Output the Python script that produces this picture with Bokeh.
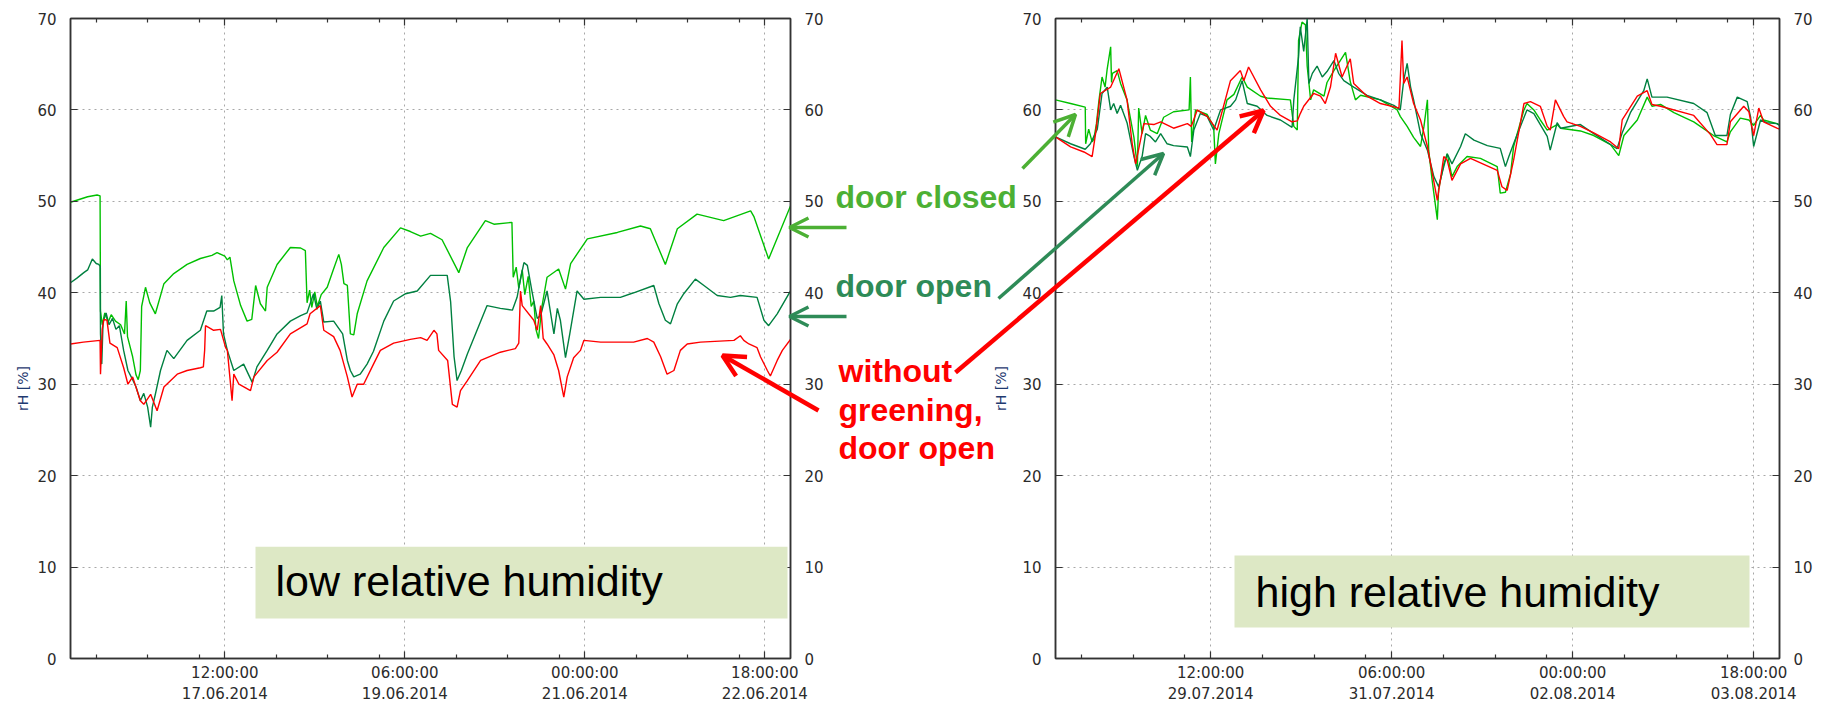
import math
from bokeh.plotting import figure
from bokeh.models import Range1d, LinearAxis, FixedTicker, Arrow, OpenHead, Label, BoxAnnotation
from bokeh.layouts import row, column
from bokeh.embed import file_html
from bokeh.resources import INLINE

# ---------------- data (hours since window start, rH in %) ----------------
# low relative humidity window starts 16.06.2014 00:00
LOW_DOOR_CLOSED = [
    (0, 49.9), (2, 50.2), (4, 50.5), (6.2, 50.7), (6.9, 50.6), (7.0, 38.0), (7.4, 36.5), (8.0, 37.8),
    (8.8, 36.8), (9.5, 37.6), (10.5, 36.9), (11.7, 36.5), (12.6, 35.5), (13.0, 39.1), (13.3, 35.2),
    (14.5, 33.0), (15.3, 31.0), (15.8, 30.5), (16.3, 31.5), (16.6, 38.5), (17.5, 40.6), (18.5, 38.9),
    (19.8, 37.7), (21.8, 41.0), (24.1, 42.1), (27.2, 43.1), (30.3, 43.75), (33.0, 44.1), (34.2, 44.4),
    (36.0, 44.0), (36.6, 43.6), (37.2, 43.9), (38.1, 41.3), (39.7, 38.6), (41.2, 36.9), (42.3, 37.1),
    (43.2, 40.8), (44.3, 38.8), (45.5, 38.0), (45.9, 40.6), (48.2, 43.1), (51.3, 44.95), (53.7, 44.9),
    (54.8, 44.6), (55.2, 38.9), (55.8, 40.3), (56.3, 38.4), (57.0, 40.1), (57.6, 38.5), (58.5, 39.8),
    (59.9, 40.6), (61.3, 42.5), (62.6, 44.2), (63.2, 43.1), (63.8, 41.0), (64.6, 40.8), (65.3, 35.5),
    (66.1, 35.4), (66.9, 37.7), (69.2, 41.3), (73.1, 44.95), (77.0, 47.1), (79.3, 46.7), (81.7, 46.2),
    (84.0, 46.5), (86.7, 45.8), (90.6, 42.2), (92.6, 44.95), (96.8, 47.9), (98.8, 47.5), (103.0, 47.7),
    (103.3, 41.7), (104.0, 42.8), (104.6, 40.5), (105.4, 42.5), (106.0, 39.8), (106.8, 41.8),
    (107.5, 38.5), (108.1, 39.1), (108.6, 36.0), (109.2, 35.0), (110.0, 38.5), (111.2, 41.7),
    (113.9, 42.6), (115.5, 40.4), (116.7, 43.2), (120.6, 45.9), (127.6, 46.6), (133.0, 47.3),
    (135.3, 47.0), (138.8, 43.1), (141.6, 47.0), (146.2, 48.6), (152.4, 47.9), (158.7, 48.95),
    (159.5, 48.3), (162.9, 43.7), (168, 49.5),
]
LOW_DOOR_OPEN = [
    (0, 41.1), (1.5, 41.6), (3.1, 42.2), (4.0, 42.5), (5.1, 43.7), (6.0, 43.2), (6.6, 43.1), (6.9, 42.9),
    (7.0, 35.5), (7.3, 32.2), (7.6, 36.8), (8.3, 37.8), (9.0, 36.5), (9.8, 37.2), (10.6, 36.0),
    (11.4, 36.4), (12.4, 33.7), (13.4, 31.5), (14.5, 30.5), (15.3, 29.7), (16.3, 28.2), (17.1, 29.0),
    (18.0, 27.5), (18.7, 25.3), (19.1, 27.5), (19.8, 28.9), (21.0, 31.5), (22.5, 33.7), (24.1, 32.8),
    (27.2, 34.8), (30.3, 35.9), (31.8, 38.0), (33.4, 38.0), (34.9, 38.4), (35.3, 39.7), (35.7, 35.5),
    (36.6, 33.7), (38.1, 31.5), (40.4, 32.2), (42.4, 30.2), (43.5, 31.9), (45.9, 33.7), (48.2, 35.5),
    (51.3, 36.9), (53.7, 37.5), (55.2, 37.8), (56.7, 39.9), (57.5, 38.2), (58.3, 39.1), (59.1, 36.8),
    (61.4, 36.9), (63.5, 35.5), (64.6, 32.6), (65.3, 31.5), (66.1, 30.8), (67.6, 31.1), (69.2, 32.2),
    (70.7, 33.6), (73.1, 36.9), (75.4, 39.1), (78.2, 39.9), (80.9, 40.2), (84.0, 41.9), (87.9, 41.9),
    (88.7, 39.0), (89.5, 33.0), (90.2, 30.4), (91.2, 31.5), (92.6, 33.3), (94.5, 35.5), (97.2, 38.6),
    (100.3, 38.3), (103.1, 38.1), (104.2, 39.5), (105.0, 41.5), (105.8, 43.3), (106.6, 43.0),
    (107.7, 40.1), (108.9, 37.2), (109.7, 37.5), (111.2, 40.2), (112.8, 35.5), (113.6, 38.3),
    (114.3, 37.0), (115.5, 32.9), (116.5, 35.5), (118.2, 40.2), (119.8, 39.3), (123.7, 39.5),
    (128.3, 39.5), (131.4, 40.0), (136.1, 40.8), (137.3, 38.8), (138.8, 37.0), (140.0, 36.6),
    (141.6, 38.8), (143.1, 39.9), (145.8, 41.5), (147.8, 40.8), (150.9, 39.7), (154.0, 39.5),
    (156.3, 39.7), (160.2, 39.5), (161.8, 37.0), (162.9, 36.4), (164.9, 37.7), (168, 40.2),
]
LOW_NO_GREENING = [
    (0, 34.4), (3, 34.6), (6.9, 34.8), (7.0, 31.1), (7.4, 36.0), (7.8, 37.1), (8.5, 37.0), (9.2, 34.5),
    (10.9, 34.0), (12.4, 31.8), (13.4, 30.0), (14.5, 30.8), (16.3, 28.2), (17.1, 27.8), (18.7, 28.9),
    (20.2, 27.1), (21.8, 29.7), (24.9, 31.1), (27.2, 31.5), (30.3, 31.8), (31.0, 31.9), (31.3, 33.7),
    (31.5, 36.4), (33.4, 35.9), (35.0, 36.0), (36.2, 34.0), (36.6, 33.7), (37.7, 28.2), (38.1, 31.1),
    (39.3, 30.0), (42.0, 29.3), (42.8, 30.8), (45.9, 32.6), (48.2, 33.5), (51.3, 35.5), (55.2, 36.6),
    (55.9, 37.7), (58.3, 38.6), (59.1, 35.9), (61.4, 35.2), (62.9, 33.7), (64.6, 30.8), (65.7, 28.6),
    (66.9, 30.0), (68.4, 30.0), (70.7, 32.2), (72.3, 33.7), (75.4, 34.5), (79.3, 34.9), (81.7, 35.1),
    (83.2, 34.8), (84.8, 35.9), (85.5, 35.5), (85.9, 33.7), (88.0, 32.6), (89.1, 27.8), (90.2, 27.5),
    (91.0, 29.3), (92.6, 30.4), (95.7, 32.6), (100.3, 33.5), (103.8, 33.9), (104.6, 34.5), (105.0, 40.2),
    (105.4, 38.6), (108.1, 37.0), (108.9, 35.9), (109.7, 38.6), (110.3, 35.0), (111.2, 34.4),
    (112.8, 33.2), (113.9, 31.5), (115.1, 28.6), (115.9, 30.8), (117.4, 32.9), (119.0, 33.7),
    (119.8, 34.8), (123.7, 34.6), (131.4, 34.6), (134.6, 35.0), (136.1, 34.6), (137.7, 33.0),
    (139.2, 31.1), (140.8, 31.5), (142.3, 33.7), (143.9, 34.4), (147.0, 34.6), (154.8, 34.8),
    (156.3, 35.3), (157.1, 34.8), (158.3, 34.4), (160.2, 34.0), (161.0, 33.0), (162.6, 31.5),
    (163.3, 30.9), (164.9, 32.6), (166.1, 33.7), (168, 34.9),
]
# high relative humidity window starts 28.07.2014 00:00
HIGH_DOOR_CLOSED = [
    (0, 61.1), (3.5, 60.7), (6.9, 60.3), (7.0, 56.3), (7.7, 57.9), (8.5, 56.5), (8.9, 56.8), (9.5, 58.5),
    (10.1, 61.1), (10.8, 63.6), (11.5, 62.5), (12.0, 64.5), (12.8, 66.9), (13.0, 63.0), (13.2, 64.0),
    (14.3, 64.3), (15.1, 62.9), (16.6, 61.1), (18.2, 57.0), (19.0, 53.8), (19.3, 60.2), (20.1, 57.4),
    (20.9, 59.4), (22.0, 57.8), (23.6, 57.4), (25.1, 59.2), (27.4, 59.8), (31.0, 60.0), (31.3, 63.6),
    (31.6, 56.5), (32.5, 60.0), (35.2, 59.5), (36.7, 58.2), (37.1, 54.1), (37.9, 57.4), (39.8, 61.1),
    (41.4, 61.7), (43.3, 63.6), (44.5, 62.5), (47.6, 61.5), (49.1, 61.3), (54.5, 61.1), (55.3, 58.2),
    (56.1, 57.8), (56.4, 67.6), (57.2, 69.6), (58.0, 69.3), (58.4, 64.8), (59.2, 61.1), (59.9, 62.2),
    (62.3, 61.5), (63.0, 63.0), (64.6, 64.3), (67.3, 66.3), (68.4, 63.1), (69.6, 61.1), (70.8, 61.6),
    (75.4, 61.1), (79.3, 60.0), (80.0, 59.3), (81.6, 58.2), (83.1, 57.0), (84.7, 56.0), (85.5, 58.2),
    (86.3, 61.1), (86.6, 55.6), (87.4, 52.3), (88.6, 48.0), (88.9, 51.3), (90.1, 54.1), (90.9, 55.2),
    (92.0, 52.7), (93.2, 53.8), (95.5, 54.9), (98.6, 54.7), (102.5, 53.8), (103.2, 50.9), (104.4, 51.0),
    (105.6, 53.0), (106.3, 56.0), (108.7, 60.0), (109.4, 60.7), (111.0, 60.0), (112.5, 58.9),
    (114.1, 57.8), (116.4, 58.4), (117.2, 58.0), (121.8, 57.7), (124.9, 57.2), (128.8, 56.2),
    (130.7, 55.0), (131.9, 57.2), (135.0, 58.9), (137.3, 61.4), (138.4, 60.4), (140.4, 60.6),
    (143.5, 59.7), (148.1, 58.7), (152.7, 57.2), (155.8, 56.5), (156.6, 57.6), (158.9, 59.1),
    (160.9, 58.9), (162.0, 58.3), (163.6, 59.4), (164.3, 58.9), (167.4, 58.5), (168, 58.4),
]
HIGH_DOOR_OPEN = [
    (0, 57.05), (3.5, 56.3), (6.9, 55.7), (8.1, 56.3), (9.7, 57.9), (10.8, 61.8), (12.0, 62.5),
    (12.8, 60.0), (13.5, 60.7), (14.3, 59.6), (15.1, 60.5), (16.6, 58.6), (18.2, 54.9), (19.0, 53.4),
    (20.1, 54.9), (20.9, 57.4), (22.0, 57.1), (23.2, 56.5), (24.4, 57.4), (25.9, 56.3), (27.4, 56.1),
    (30.6, 55.95), (31.3, 54.9), (32.1, 57.8), (33.6, 59.6), (35.2, 59.3), (36.7, 57.8), (38.3, 60.0),
    (40.6, 60.4), (41.8, 61.1), (43.3, 63.2), (44.5, 60.7), (46.8, 60.4), (49.1, 59.4), (52.2, 58.9),
    (54.9, 58.1), (55.3, 61.1), (56.4, 65.8), (56.8, 69.1), (57.6, 66.4), (58.4, 70.0), (58.8, 62.9),
    (59.6, 64.0), (60.7, 64.8), (61.9, 63.6), (63.0, 64.2), (64.6, 65.4), (65.7, 64.0), (66.9, 63.2),
    (69.2, 62.5), (72.3, 61.6), (75.4, 61.1), (78.5, 60.5), (80.0, 60.0), (80.8, 63.2), (81.6, 65.1),
    (82.4, 62.5), (83.1, 61.1), (84.7, 57.4), (86.3, 55.6), (87.8, 52.7), (88.9, 51.6), (90.1, 53.8),
    (90.9, 55.2), (92.0, 54.1), (94.0, 56.0), (95.1, 57.4), (97.1, 56.7), (100.2, 56.1), (103.2, 55.8),
    (104.4, 53.8), (105.2, 54.9), (106.3, 56.3), (109.4, 60.0), (111.0, 59.6), (114.1, 57.1),
    (114.8, 55.6), (116.4, 58.6), (117.2, 58.0), (121.8, 58.4), (124.9, 57.4), (130.3, 55.75),
    (131.5, 57.5), (133.4, 59.7), (136.5, 62.1), (137.3, 63.4), (138.4, 61.4), (141.9, 61.4),
    (148.1, 60.7), (151.2, 59.7), (153.1, 57.2), (155.8, 57.2), (156.6, 59.5), (158.2, 61.4),
    (160.5, 60.9), (161.3, 59.2), (162.0, 56.0), (163.6, 58.9), (165.1, 58.6), (167.4, 58.5), (168, 58.3),
]
HIGH_NO_GREENING = [
    (0, 57.05), (3.5, 55.95), (6.6, 55.4), (8.5, 54.9), (9.3, 57.4), (10.4, 61.8), (12.8, 62.5),
    (14.7, 64.5), (16.6, 61.1), (17.8, 56.3), (18.6, 54.1), (20.5, 58.5), (22.8, 58.4), (24.4, 58.7),
    (27.4, 58.0), (30.6, 58.5), (31.5, 58.2), (32.9, 60.0), (35.2, 59.3), (37.5, 57.8), (40.6, 63.2),
    (42.9, 64.3), (43.7, 63.2), (44.8, 64.7), (47.6, 62.2), (49.9, 60.4), (52.2, 59.4), (54.9, 58.7),
    (56.1, 58.8), (56.8, 59.6), (57.6, 60.4), (59.9, 61.8), (61.5, 61.5), (62.6, 60.7), (63.8, 62.5),
    (65.0, 66.2), (66.5, 63.6), (68.4, 65.6), (69.2, 62.9), (72.3, 61.5), (75.4, 60.7), (79.7, 60.2),
    (80.4, 67.6), (80.8, 62.9), (81.6, 63.6), (83.1, 60.7), (84.7, 58.9), (86.3, 56.0), (88.6, 50.1),
    (90.1, 54.9), (90.9, 54.5), (92.0, 52.3), (94.0, 54.1), (96.3, 54.7), (102.5, 53.4), (103.6, 51.6),
    (104.8, 51.2), (106.3, 54.5), (108.7, 60.7), (110.2, 60.9), (112.5, 60.4), (114.1, 58.2),
    (114.8, 57.8), (116.0, 61.1), (117.9, 59.3), (118.7, 58.7), (121.8, 58.2), (124.9, 57.5),
    (128.8, 56.5), (130.7, 55.75), (131.5, 58.9), (135.0, 61.5), (137.3, 62.1), (138.4, 60.6),
    (140.4, 60.4), (148.1, 59.4), (152.0, 57.3), (153.5, 56.2), (155.8, 56.2), (156.6, 58.7),
    (159.7, 60.4), (160.9, 59.8), (162.0, 57.2), (163.2, 60.2), (164.3, 58.7), (167.4, 58.0), (168, 57.9),
]

X_MAJOR = [36, 78, 120, 162]
X_MINOR = [6, 18, 30, 48, 60, 72, 90, 102, 114, 132, 144, 156]
LOW_XLABELS = ["12:00:00\n17.06.2014", "06:00:00\n19.06.2014", "00:00:00\n21.06.2014", "18:00:00\n22.06.2014"]
HIGH_XLABELS = ["12:00:00\n29.07.2014", "06:00:00\n31.07.2014", "00:00:00\n02.08.2014", "18:00:00\n03.08.2014"]
Y_TICKS = [0, 10, 20, 30, 40, 50, 60, 70]

C_CLOSED = "#00c000"
C_OPEN = "#008040"
C_NOGREEN = "#ff0000"
T_CLOSED = "#4cb034"
T_OPEN = "#2e8b57"
T_RED = "#ff0000"

# ---------------- layout geometry (page pixels) ----------------
PAGE_W, PAGE_H = 1823, 706
LEFT_W = 1019
RIGHT_W = PAGE_W - LEFT_W
LEFT_B = dict(left=70, right=229, top=17, bottom=48)
RIGHT_B = dict(left=36, right=44, top=18, bottom=48)


def make_panel(width, b, series, xlabels):
    p = figure(width=width, height=PAGE_H, x_range=Range1d(0, 168), y_range=Range1d(0, 70),
               output_backend="svg", toolbar_location=None,
               min_border_left=b["left"], min_border_right=b["right"],
               min_border_top=b["top"], min_border_bottom=b["bottom"])
    p.outline_line_color = "#333333"
    p.outline_line_width = 1.5
    xt = FixedTicker(ticks=X_MAJOR, minor_ticks=X_MINOR)
    yt = FixedTicker(ticks=Y_TICKS, minor_ticks=[])
    xb = p.xaxis[0]
    yl = p.yaxis[0]
    xb.ticker = xt
    yl.ticker = yt
    xb.major_label_overrides = dict(zip(X_MAJOR, xlabels))
    xa = LinearAxis(ticker=xt)
    yr = LinearAxis(ticker=yt)
    p.add_layout(xa, "above")
    p.add_layout(yr, "right")
    for ax in (xb, yl, xa, yr):
        ax.axis_line_color = "#333333"
        ax.axis_line_width = 1.5
        ax.major_tick_in = 7
        ax.major_tick_out = 0
        ax.minor_tick_in = 4
        ax.minor_tick_out = 0
        ax.major_tick_line_color = "#333333"
        ax.minor_tick_line_color = "#333333"
        ax.major_tick_line_width = 1.2
        ax.minor_tick_line_width = 1.2
        ax.major_label_text_font = "DejaVu Sans"
        ax.major_label_text_font_size = "15px"
        ax.major_label_text_color = "#2b2b2b"
        ax.major_label_standoff = 14
    xb.major_label_standoff = 5
    # top axis: ticks only (labels not painted)
    xa.major_label_text_font_size = "1px"
    xa.major_label_text_alpha = 0
    xa.major_label_standoff = 0
    p.xgrid.ticker = xt
    p.ygrid.ticker = yt
    for g in (p.xgrid, p.ygrid):
        g.grid_line_color = "#a8a8a8"
        g.grid_line_dash = "2 4"
        g.grid_line_width = 1
    for pts, color in series:
        p.line([t for t, _ in pts], [v for _, v in pts], line_color=color, line_width=1.4)
    return p


left = make_panel(LEFT_W, LEFT_B, [(LOW_DOOR_CLOSED, C_CLOSED), (LOW_DOOR_OPEN, C_OPEN), (LOW_NO_GREENING, C_NOGREEN)], LOW_XLABELS)
right = make_panel(RIGHT_W, RIGHT_B, [(HIGH_DOOR_CLOSED, C_CLOSED), (HIGH_DOOR_OPEN, C_OPEN), (HIGH_NO_GREENING, C_NOGREEN)], HIGH_XLABELS)


def frame_of(x0, width, b):
    return (x0 + b["left"], x0 + width - b["right"], b["top"], PAGE_H - b["bottom"])


LEFT_FRAME = frame_of(0, LEFT_W, LEFT_B)
RIGHT_FRAME = frame_of(LEFT_W, RIGHT_W, RIGHT_B)


def to_data(frame, px, py):
    fx0, fx1, fy0, fy1 = frame
    return (px - fx0) / (fx1 - fx0) * 168.0, (fy1 - py) / (fy1 - fy0) * 70.0


# highlighted boxes inside the panels
for p, frame, (bx0, by0, bx1, by1) in ((left, LEFT_FRAME, (255, 546, 787, 618)),
                                       (right, RIGHT_FRAME, (1234, 555, 1749, 627))):
    x0, y1 = to_data(frame, bx0, by0)
    x1, y0 = to_data(frame, bx1, by1)
    p.add_layout(BoxAnnotation(left=x0, right=x1, bottom=y0, top=y1, fill_color="#dde8c5", fill_alpha=1.0,
                               line_alpha=0))

# ---------------- transparent overlay for annotations (page-pixel coordinates) ----------------
ov = figure(width=PAGE_W, height=PAGE_H, x_range=Range1d(0, PAGE_W), y_range=Range1d(PAGE_H, 0),
            output_backend="svg", toolbar_location=None, x_axis_location=None, y_axis_location=None,
            min_border=0, min_border_left=0, min_border_right=0, min_border_top=0, min_border_bottom=0)
ov.background_fill_color = None
ov.border_fill_color = None
ov.outline_line_color = None
ov.xgrid.visible = False
ov.ygrid.visible = False
ov.margin = (-PAGE_H, 0, 0, 0)


def add_arrow(start, end, color, width, head):
    ov.add_layout(Arrow(x_start=start[0], y_start=start[1], x_end=end[0], y_end=end[1],
                        line_color=color, line_width=width,
                        end=OpenHead(size=head, line_color=color, line_width=width)))


def add_label(pos, text, color, size_px, bold=True, font="Liberation Sans", angle=0.0,
              align="left", baseline="alphabetic", shift=0.37):
    # pos = (left x, baseline y); shift compensates the renderer's baseline placement
    y = pos[1] - shift * size_px
    ov.add_layout(Label(x=pos[0], y=y, text=text, text_color=color, text_font=font,
                        text_font_size=f"{size_px}px", text_font_style="bold" if bold else "normal",
                        angle=angle, text_align=align, text_baseline=baseline))


add_label((275, 598), "low relative humidity", "black", 43, bold=False, shift=0.4)
add_label((1255, 607), "high relative humidity", "black", 43, bold=False, shift=0.37)

add_label((22, 388), "rH [%]", "#1f3a70", 14, bold=False, font="DejaVu Sans",
          angle=math.pi / 2, align="center", baseline="middle", shift=0)
add_label((1000, 388), "rH [%]", "#1f3a70", 14, bold=False, font="DejaVu Sans",
          angle=math.pi / 2, align="center", baseline="middle", shift=0)

add_label((835, 208), "door closed", T_CLOSED, 32)
add_label((835, 297), "door open", T_OPEN, 32)
add_label((838, 382), "without", T_RED, 32)
add_label((838, 421), "greening,", T_RED, 32)
add_label((838, 459), "door open", T_RED, 32)

add_arrow((846, 227), (789, 227), T_CLOSED, 3.5, 19)
add_arrow((846, 316), (789, 316), T_OPEN, 3.5, 19)
add_arrow((818, 410), (722, 355), T_RED, 4.5, 22)
add_arrow((1022, 168), (1075, 114), T_CLOSED, 3.5, 21)
add_arrow((998, 298), (1163, 153), T_OPEN, 3.5, 21)
add_arrow((955, 372), (1263, 110), T_RED, 4.5, 22)

layout = column(row(left, right, spacing=0), ov, spacing=0)
open("out.html", "w").write(file_html(layout, INLINE))
